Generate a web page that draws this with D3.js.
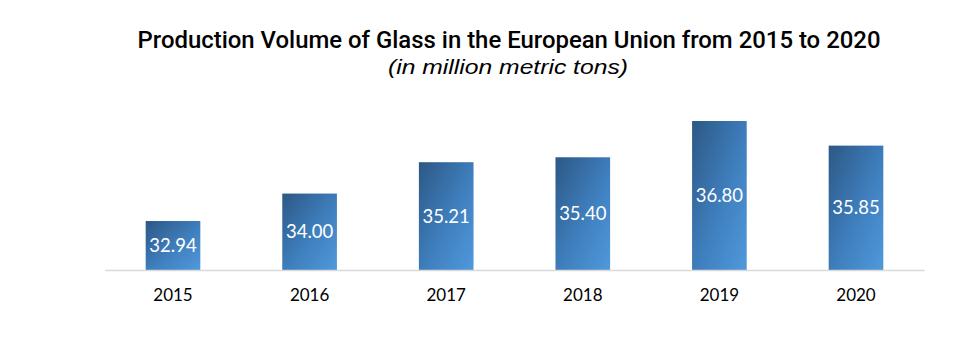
<!DOCTYPE html>
<html><head><meta charset="utf-8">
<script src="https://cdn.jsdelivr.net/npm/d3@7"></script>
<style>html,body{margin:0;padding:0;background:#fff;}svg{display:block;}</style>
</head><body>
<svg id="chart" width="965" height="338"></svg>
<script>
const years = ["2015","2016","2017","2018","2019","2020"];
const volumes = [32.94, 34.00, 35.21, 35.40, 36.80, 35.85];
const titleText = "Production Volume of Glass in the European Union from 2015 to 2020";
const subtitleText = "(in million metric tons)";

const svg = d3.select("#chart");
const W = 965, H = 338;
const baseY = 270;

const x = d3.scaleBand().domain(years).range([104.7, 924.3]).paddingInner(0.6).paddingOuter(0.3);
const y = d3.scaleLinear().domain([31.05, 36.80]).range([baseY, 121]);

const defs = svg.append("defs");
const grad = defs.append("linearGradient").attr("id","barGrad")
  .attr("x1","0").attr("y1","0").attr("x2","1").attr("y2","1");
grad.append("stop").attr("offset","0%").attr("stop-color","#2c5885");
grad.append("stop").attr("offset","55%").attr("stop-color","#3f7fbe");
grad.append("stop").attr("offset","100%").attr("stop-color","#4f99dc");

// title
svg.append("text").attr("x", 509).attr("y", 48)
  .attr("text-anchor","middle")
  .attr("font-family","'Roboto', sans-serif")
  .attr("font-weight",500).attr("font-size", 24).attr("fill","#000")
  .attr("textLength", 743).attr("lengthAdjust","spacingAndGlyphs")
  .text(titleText);

svg.append("text").attr("x", 508).attr("y", 74)
  .attr("text-anchor","middle")
  .attr("font-family","'Liberation Sans', Arial, sans-serif")
  .attr("font-style","italic").attr("font-size", 21).attr("fill","#000")
  .attr("textLength", 240).attr("lengthAdjust","spacingAndGlyphs")
  .text(subtitleText);

// bars
const data = years.map((yr,i)=>({year:yr, v:volumes[i]}));
svg.append("g").selectAll("rect").data(data).join("rect")
  .attr("x", d=>x(d.year)).attr("width", x.bandwidth())
  .attr("y", d=>y(d.v)).attr("height", d=>baseY - y(d.v))
  .attr("fill","url(#barGrad)");

// axis
const xAxis = d3.axisBottom(x).tickSize(0).tickPadding(19);
const ax = svg.append("g").attr("transform",`translate(0,${baseY})`).call(xAxis);
ax.select(".domain").attr("stroke","#d9d9d9").attr("stroke-width",1.5);
ax.selectAll("text").attr("font-family","Lato, sans-serif").attr("font-size",17).attr("fill","#000");

// value labels
svg.append("g").selectAll("text").data(data).join("text")
  .attr("x", d=>x(d.year)+x.bandwidth()/2)
  .attr("y", d=>(y(d.v)+baseY)/2)
  .attr("dy","0.36em")
  .attr("text-anchor","middle")
  .attr("font-family","Lato, sans-serif").attr("font-size",18.5).attr("fill","#fff")
  .text(d=>d3.format(".2f")(d.v));
</script>
</body></html>
